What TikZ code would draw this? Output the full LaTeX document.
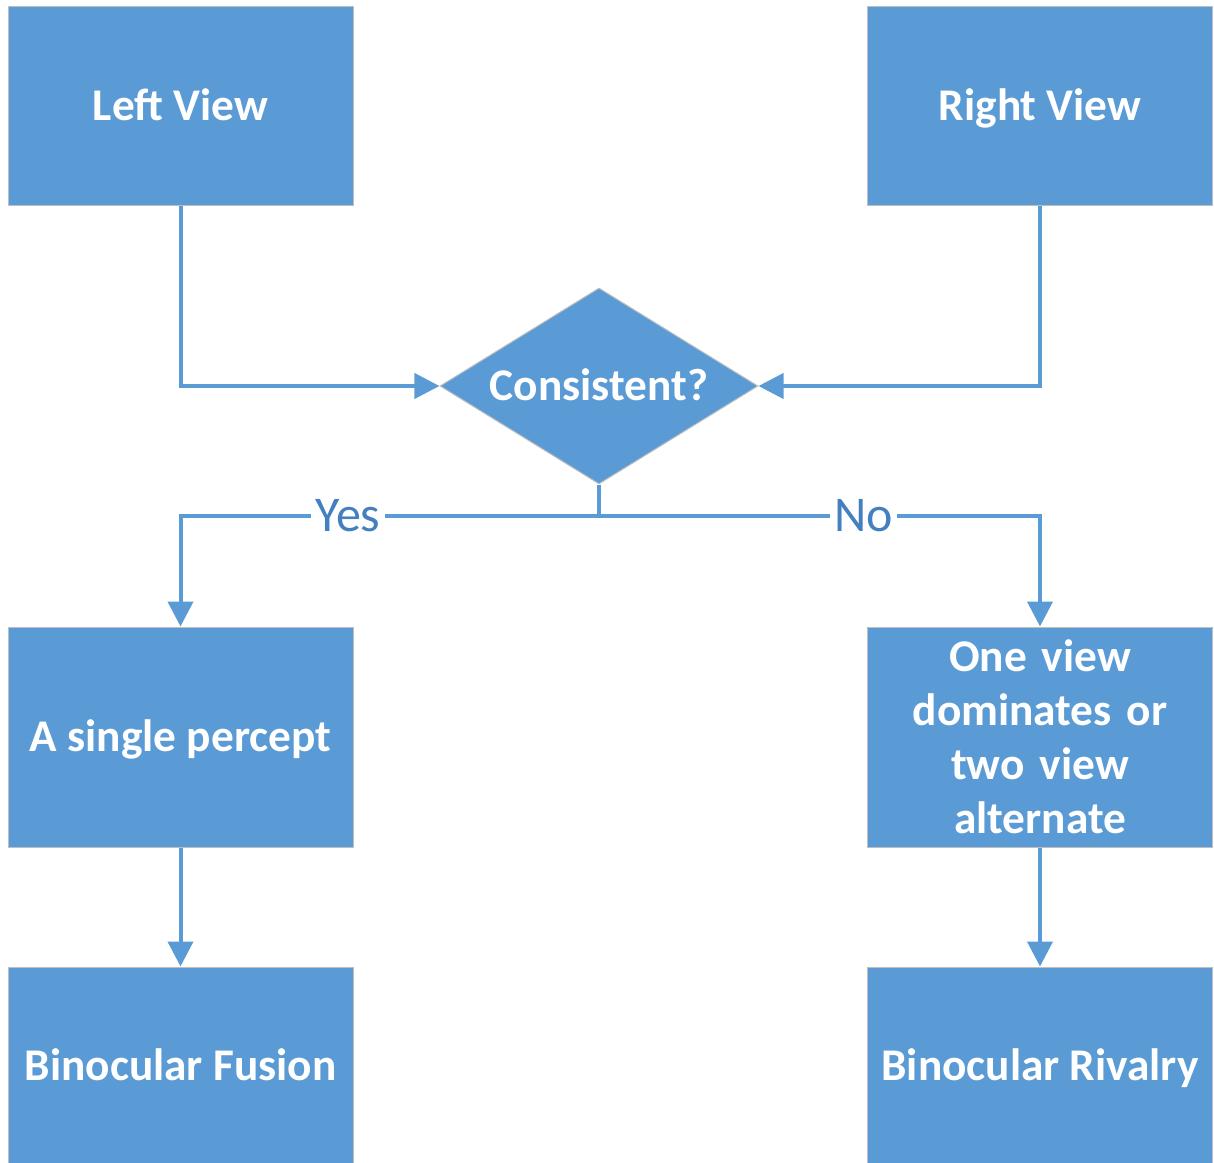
\documentclass[tikz,border=0pt]{standalone}
\usepackage{fontspec}
\setmainfont{Carlito}
\usetikzlibrary{shapes.geometric,arrows.meta}
\definecolor{boxblue}{RGB}{91,155,213}
\definecolor{edgegray}{RGB}{190,190,190}
\definecolor{labelblue}{RGB}{68,128,192}

\begin{document}
\begin{tikzpicture}[x=0.75pt,y=-0.75pt,
  box/.style={draw=edgegray,line width=0.75pt,fill=boxblue,shape=rectangle,
    inner sep=0pt,minimum width=258.75pt,minimum height=148.5pt,text=white,
    font=\fontsize{34}{40.5}\selectfont\bfseries,text height=22pt,text depth=0pt},
  tallbox/.style={box,minimum height=165pt},
  choice/.style={box,shape=diamond,aspect=1.62,minimum width=238.5pt,minimum height=147pt},
  flow/.style={draw=boxblue,line width=3pt,-{Triangle[length=18.75pt,width=18.75pt]}},
  lab/.style={fill=white,text=labelblue,inner sep=3pt,font=\fontsize{37.5}{40}\selectfont}]
  \useasboundingbox (0,0) rectangle (1214,1163);
  \node[box] (left) at (180.5,106) {Left View};
  \node[box] (right) at (1040,106) {Right View};
  \node[choice] (check) at (599,386) {Consistent?};
  \node[tallbox] (single) at (180.5,737) {A single percept};
  \node[tallbox,text height=,text depth=,align=center,text width=240pt] (alter) at (1040,737) {One view\\dominates or\\two view\\alternate};
  \node[box] (fusion) at (180.5,1066) {Binocular Fusion};
  \node[box] (rivalry) at (1040,1066) {Binocular Rivalry};
  \coordinate (branch) at (599,516);
  \draw[flow] (left) |- (check);
  \draw[flow] (right) |- (check);
  \draw[draw=boxblue,line width=3pt] (check) -- (branch);
  \draw[flow] (branch) -| node[lab,pos=0.3] {Yes} (single);
  \draw[flow] (branch) -| node[lab,pos=0.3] {No} (alter);
  \draw[flow] (single) -- (fusion);
  \draw[flow] (alter) -- (rivalry);
\end{tikzpicture}
\end{document}
